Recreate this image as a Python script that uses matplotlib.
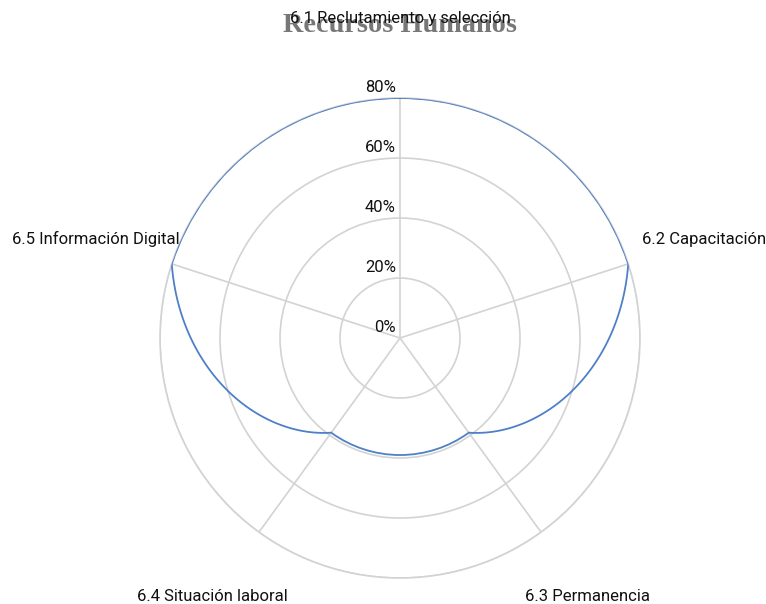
import numpy as np
import matplotlib.pyplot as plt

categories = ["6.1 Reclutamiento y selección", "6.2 Capacitación", "6.3 Permanencia",
              "6.4 Situación laboral", "6.5 Información Digital"]
values = [80, 80, 39, 39, 80]          # percent
r_ticks = [0, 20, 40, 60, 80]

GRID = "#d3d3d3"
LINE = "#4f80c6"

fig = plt.figure(figsize=(7.66, 6.04), dpi=100)
ax = fig.add_axes([0.2089, 0.0430, 0.6266, 0.7947], projection="polar")
ax.set_theta_zero_location("N")
ax.set_theta_direction(-1)

angles = np.linspace(0, 2 * np.pi, len(categories), endpoint=False)

# closed loop (last point at 2*pi so the closing segment goes forward)
th = np.append(angles, 2 * np.pi)
rv = np.append(values, values[0])
ln, = ax.plot(th, rv, color=LINE, lw=1.3, zorder=3)
ln.get_path()._interpolation_steps = 60

ax.set_ylim(0, 80)
ax.set_yticks(r_ticks[1:])
ax.set_yticklabels([])
ax.set_xticks(angles)
ax.set_xticklabels([])
ax.grid(color=GRID, lw=1.2)
ax.spines["polar"].set_color(GRID)
ax.spines["polar"].set_linewidth(1.2)
ax.set_facecolor("white")

# radial labels along the top spoke
for v in r_ticks:
    ax.annotate(f"{v}%", xy=(0, v), xytext=(-3, 2), textcoords="offset points",
                ha="right", va="bottom", fontsize=12, family="Roboto",
                color="#111111", zorder=4)

# category labels outside the rings
for a, c in zip(angles, categories):
    ax.text(a, 106.5, c, ha="center", va="center", fontsize=12,
            family="Roboto", color="#111111", clip_on=False)

# title sits under the top category label, as in the original
fig.text(0.5222, 1 - 25 / 604, "Recursos Humanos", ha="center", va="center",
         fontsize=20.3, fontweight="bold", family="Liberation Serif", color="#777777",
         zorder=-1)

fig.savefig("out.png", dpi=100)
